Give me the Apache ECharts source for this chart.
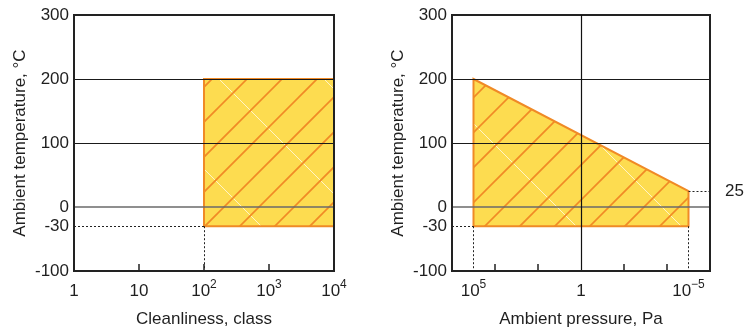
<!DOCTYPE html>
<html><head><meta charset="utf-8">
<script src="https://cdn.jsdelivr.net/npm/echarts@6/dist/echarts.min.js"></script>
<style>html,body{margin:0;padding:0;background:#fff}#c{width:750px;height:333px}</style>
</head><body><div id="c"></div>
<script>
// ---- data ----
const cleanExpTicks = [0, 1, 2, 3, 4];            // 10^0 .. 10^4 (class)
const cleanRegionClass = [100, 10000, 10000, 100];
const cleanRegionTemp = [-30, -30, 200, 200];
const pressRegionPa = [1e5, 1e5, 1e-5, 1e-5];
const pressRegionTemp = [-30, 200, 25, -30];
const pressLabelExp = [5, 0, -5];
const pressTickExp = [4, 2, -2, -4];
const tempLabels = [-100, -30, 0, 100, 200, 300];
const rightNote = [25];
const gridTemps = [100, 200];
const zeroTemp = 0;
const tempMin = -30;
const cleanMinClass = 100;
const pressHiPa = 1e5, pressLoPa = 1e-5, pressLoTemp = 25;

// ---- styles ----
const TXT = '#1f1f1f';
const FONT = 'Liberation Sans, Arial, Helvetica, sans-serif';
const FS = 17;
const ORANGE = '#f08a26';
const YELLOW = '#fddc50';

function makePattern() {
  const T = 105, c = document.createElement('canvas');
  c.width = T; c.height = T;
  const g = c.getContext('2d');
  g.fillStyle = YELLOW; g.fillRect(0, 0, T, T);
  g.strokeStyle = 'rgba(255,255,255,0.85)'; g.lineWidth = 0.8;
  for (let k = -2; k <= 1; k++) {
    const d = 35 + 105 * k;
    g.beginPath(); g.moveTo(d - 10, -10); g.lineTo(d + T + 10, T + 10); g.stroke();
  }
  g.strokeStyle = ORANGE; g.lineWidth = 1.7;
  for (let k = -1; k <= 7; k++) {
    const s = 11 + 35 * k;
    g.beginPath(); g.moveTo(s + 10, -10); g.lineTo(-10, s + 10); g.stroke();
  }
  return c;
}
const pat = makePattern();

const lg = Math.log10;
const sup = (n) => n === 0 ? '{b|1}' : (n === 1 ? '{b|10}' : '{b|10}{s|' + (n < 0 ? '\u2212' + (-n) : n) + '}');
const rich = {
  b: { fontSize: FS, lineHeight: 24, color: TXT, fontFamily: FONT },
  s: { fontSize: 12, lineHeight: 12, padding: [0, 0, 12, 0], color: TXT, fontFamily: FONT }
};

function polySeries(xi, yi, xs, ys) {
  const data = xs.map((x, i) => [x, ys[i]]);
  return {
    type: 'custom', xAxisIndex: xi, yAxisIndex: yi, z: 2, silent: true,
    data: data,
    renderItem: (params, api) => {
      if (params.dataIndex !== 0) return null;
      const pts = data.map(d => api.coord(d));
      return { type: 'polygon', shape: { points: pts },
        style: { fill: { image: pat, repeat: 'repeat' }, stroke: ORANGE, lineWidth: 2, lineJoin: 'miter' } };
    }
  };
}

const solid = (c, w) => ({ color: c, width: w, type: 'solid' });
const dotted = { color: '#222', width: 1, type: [2, 2] };

function markSeries(xi, yi, lines) {
  return {
    type: 'line', xAxisIndex: xi, yAxisIndex: yi, data: [], z: 5, silent: true,
    markLine: { symbol: 'none', silent: true, animation: false, label: { show: false }, data: lines }
  };
}

const leftLines = [
  ...gridTemps.map(t => ({ yAxis: t, lineStyle: solid('#1a1a1a', 1.2) })),
  { yAxis: zeroTemp, lineStyle: solid('#6a6a6a', 1.6) },
  [{ coord: [0, tempMin], lineStyle: dotted }, { coord: [lg(cleanMinClass), tempMin] }],
  [{ coord: [lg(cleanMinClass), tempMin], lineStyle: dotted }, { coord: [lg(cleanMinClass), -100] }]
];
const rightLines = [
  ...gridTemps.map(t => ({ yAxis: t, lineStyle: solid('#1a1a1a', 1.2) })),
  { yAxis: zeroTemp, lineStyle: solid('#6a6a6a', 1.6) },
  { xAxis: 0, lineStyle: solid('#111', 1.2) },
  [{ coord: [6, tempMin], lineStyle: dotted }, { coord: [lg(pressHiPa), tempMin] }],
  [{ coord: [lg(pressHiPa), tempMin], lineStyle: dotted }, { coord: [lg(pressHiPa), -100] }],
  [{ coord: [lg(pressLoPa), tempMin], lineStyle: dotted }, { coord: [lg(pressLoPa), -100] }],
  [{ coord: [lg(pressLoPa), pressLoTemp], lineStyle: dotted }, { coord: [-6, pressLoTemp] }]
];

const yBase = (gi, pos) => ({
  type: 'value', gridIndex: gi, position: pos, min: -100, max: 300, z: 10,
  axisLine: { show: true, onZero: false, lineStyle: { color: '#222', width: 2 } },
  axisTick: { show: false }, splitLine: { show: false }
});
const nameStyle = { fontSize: FS, color: TXT, fontFamily: FONT };
const yLab = { customValues: tempLabels, margin: 5, fontSize: FS, color: TXT, fontFamily: FONT };

const option = {
  animation: false,
  textStyle: { fontFamily: FONT },
  grid: [
    { left: 74, top: 15, width: 260, height: 258, show: true, borderColor: '#222', borderWidth: 2, containLabel: false },
    { left: 452, top: 15, width: 258, height: 258, show: true, borderColor: '#222', borderWidth: 2, containLabel: false }
  ],
  xAxis: [
    { type: 'value', gridIndex: 0, min: 0, max: 4, interval: 1, z: 10,
      name: 'Cleanliness, class', nameLocation: 'middle', nameGap: 40, nameTextStyle: nameStyle,
      axisLine: { show: true, onZero: false, lineStyle: { color: '#222', width: 2 } },
      axisTick: { show: true, inside: true, length: 7, lineStyle: { color: '#222', width: 1.5 } },
      splitLine: { show: false },
      axisLabel: { margin: 8, formatter: v => sup(v), rich: rich, color: TXT, showMinLabel: true, showMaxLabel: true }
    },
    { type: 'value', gridIndex: 1, min: -6, max: 6, inverse: true, z: 10,
      name: 'Ambient pressure, Pa', nameLocation: 'middle', nameGap: 40, nameTextStyle: nameStyle,
      axisLine: { show: true, onZero: false, lineStyle: { color: '#222', width: 2 } },
      axisTick: { show: true, inside: true, length: 7, customValues: pressTickExp, lineStyle: { color: '#222', width: 1.5 } },
      splitLine: { show: false },
      axisLabel: { margin: 8, customValues: pressLabelExp, formatter: v => sup(v), rich: rich, color: TXT }
    }
  ],
  yAxis: [
    Object.assign(yBase(0, 'left'), {
      name: 'Ambient temperature, \u00b0C', nameLocation: 'middle', nameGap: 45, nameTextStyle: nameStyle,
      axisLabel: yLab
    }),
    Object.assign(yBase(0, 'right'), { axisLabel: { show: false } }),
    Object.assign(yBase(1, 'left'), {
      name: 'Ambient temperature, \u00b0C', nameLocation: 'middle', nameGap: 45, nameTextStyle: nameStyle,
      axisLabel: yLab
    }),
    Object.assign(yBase(1, 'right'), {
      axisLabel: { customValues: rightNote, margin: 15, fontSize: FS, color: TXT, fontFamily: FONT }
    })
  ],
  series: [
    polySeries(0, 0, cleanRegionClass.map(lg), cleanRegionTemp),
    polySeries(1, 2, pressRegionPa.map(lg), pressRegionTemp),
    markSeries(0, 0, leftLines),
    markSeries(1, 2, rightLines)
  ]
};

const chart = echarts.init(document.getElementById('c'), null, { renderer: 'canvas' });
chart.setOption(option);
</script>
</body></html>
